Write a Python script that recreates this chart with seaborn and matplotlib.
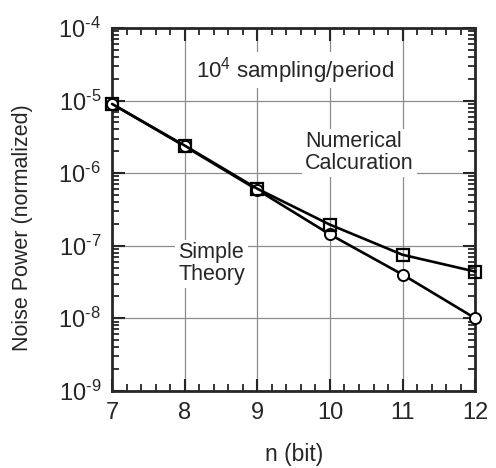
import matplotlib
matplotlib.use("Agg")
import matplotlib.pyplot as plt
from matplotlib.ticker import FixedLocator, LogLocator, MultipleLocator, NullFormatter
import pandas as pd
import seaborn as sns

# values
bits = [7, 8, 9, 10, 11, 12]
simple_theory = [9.0e-6, 2.35e-6, 5.9e-7, 1.43e-7, 4.0e-8, 1.0e-8]
numerical = [9.0e-6, 2.4e-6, 6.1e-7, 1.95e-7, 7.5e-8, 4.4e-8]
y_ticks = [1e-9, 1e-8, 1e-7, 1e-6, 1e-5, 1e-4]
y_tick_labels = [r"10$^{\text{-9}}$", r"10$^{\text{-8}}$", r"10$^{\text{-7}}$",
                 r"10$^{\text{-6}}$", r"10$^{\text{-5}}$", r"10$^{\text{-4}}$"]
x_ticks = [7, 8, 9, 10, 11, 12]

sns.set_style("ticks")
plt.rcParams['font.family'] = ['Liberation Sans', 'DejaVu Sans']
plt.rcParams['mathtext.fontset'] = 'custom'
plt.rcParams['mathtext.rm'] = 'Liberation Sans'
plt.rcParams['mathtext.it'] = 'Liberation Sans:italic'
plt.rcParams['mathtext.default'] = 'regular'

df = pd.DataFrame({'n': bits, 'simple': simple_theory, 'numerical': numerical})

fig = plt.figure(figsize=(4.96, 4.68), dpi=100)
ax = fig.add_axes([0.226, 0.165, 0.732, 0.775])
ax.set_yscale('log')

sns.lineplot(data=df, x='n', y='simple', ax=ax, color='black', linewidth=1.9,
             marker='o', markersize=8, markerfacecolor='white',
             markeredgecolor='black', markeredgewidth=1.4, clip_on=False, zorder=3)
sns.lineplot(data=df, x='n', y='numerical', ax=ax, color='black', linewidth=1.9,
             marker='s', markersize=8.5, markerfacecolor='none',
             markeredgecolor='black', markeredgewidth=1.6, clip_on=False, zorder=4)

ax.set_xlim(7, 12)
ax.set_ylim(1e-9, 1e-4)
ax.xaxis.set_major_locator(FixedLocator(x_ticks))
ax.xaxis.set_minor_locator(MultipleLocator(0.2))
ax.yaxis.set_major_locator(FixedLocator(y_ticks))
ax.yaxis.set_minor_locator(LogLocator(base=10, subs=range(2, 10), numticks=20))
ax.yaxis.set_minor_formatter(NullFormatter())
ax.set_yticks(y_ticks)
ax.set_yticklabels(y_tick_labels)
ax.set_xticklabels([str(v) for v in x_ticks])

ax.grid(True, which='major', color='#8c8c8c', linewidth=0.9)
ax.set_axisbelow(True)

for s in ax.spines.values():
    s.set_linewidth(2.0)
    s.set_visible(True)
ax.tick_params(which='major', direction='in', length=9, width=1.5,
               top=True, right=True, labelsize=17, pad=8)
ax.tick_params(which='minor', direction='in', length=5, width=1.3,
               top=True, right=True)

ax.set_xlabel('n (bit)', fontsize=16.5, labelpad=14)
ax.set_ylabel('Noise Power (normalized)', fontsize=15.5)
ax.yaxis.set_label_coords(-0.218, 0.45)

box = dict(facecolor='white', edgecolor='none', pad=2)
ax.text(9.52, 10**-4.58, r"10$^4$ sampling/period", fontsize=16,
        ha='center', va='center', bbox=box, zorder=2)
ax.text(9.66, 10**-5.72, "Numerical\nCalcuration", fontsize=15.5,
        ha='left', va='center', linespacing=1.05, bbox=box, zorder=2)
ax.text(7.91, 10**-7.25, "Simple\nTheory", fontsize=15.5,
        ha='left', va='center', linespacing=1.05, bbox=box, zorder=2)

fig.savefig('out.png', dpi=100)
